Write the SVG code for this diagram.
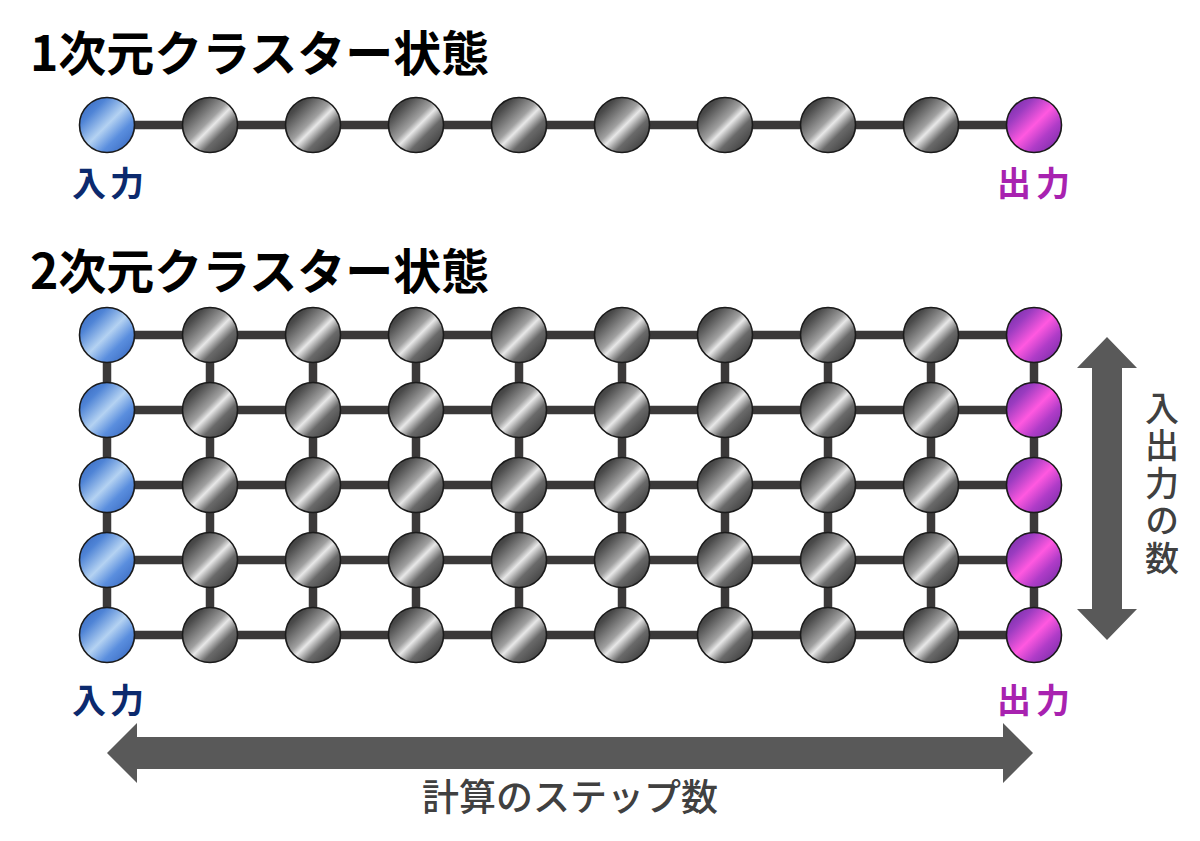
<svg xmlns="http://www.w3.org/2000/svg" width="1200" height="841" viewBox="0 0 1200 841">
<defs>
<linearGradient id="gGray" x1="0" y1="0" x2="1" y2="1">
<stop offset="0" stop-color="#2a2a2a"/>
<stop offset="0.2" stop-color="#4a4a4a"/>
<stop offset="0.45" stop-color="#a0a0a0"/>
<stop offset="0.53" stop-color="#e8e8e8"/>
<stop offset="0.68" stop-color="#6a6a6a"/>
<stop offset="1" stop-color="#2a2a2a"/>
</linearGradient>
<linearGradient id="gBlue" x1="0" y1="0" x2="1" y2="1">
<stop offset="0" stop-color="#2f5fb8"/>
<stop offset="0.25" stop-color="#4f84d6"/>
<stop offset="0.5" stop-color="#b4d2f2"/>
<stop offset="0.7" stop-color="#5a8ede"/>
<stop offset="1" stop-color="#2f5fb8"/>
</linearGradient>
<linearGradient id="gPurple" x1="0" y1="0" x2="1" y2="1">
<stop offset="0" stop-color="#6a2aa0"/>
<stop offset="0.25" stop-color="#9a3cc0"/>
<stop offset="0.5" stop-color="#ff58e0"/>
<stop offset="0.7" stop-color="#b03cc8"/>
<stop offset="1" stop-color="#6a2aa0"/>
</linearGradient>
</defs>
<style>
.edge{stroke:#3b3939;stroke-width:8.5;fill:none}
.n{stroke:#1a1a1a;stroke-width:1.6}
.gray{fill:url(#gGray)}
.blue{fill:url(#gBlue)}
.purple{fill:url(#gPurple)}
.title{font-family:"Noto Sans CJK JP","Liberation Sans",sans-serif;font-weight:bold;font-size:48px;fill:#000}
.lin{font-family:"Noto Sans CJK JP",sans-serif;font-weight:bold;font-size:34px;fill:#0c2a6e}
.lout{font-family:"Noto Sans CJK JP",sans-serif;font-weight:bold;font-size:34px;fill:#a822b0}
.axis{font-family:"Noto Sans CJK JP",sans-serif;font-weight:500;font-size:37px;fill:#404040}
.vaxis{font-family:"Noto Sans CJK JP",sans-serif;font-weight:500;font-size:34px;fill:#404040;writing-mode:vertical-rl;letter-spacing:3.5px}
.arrow{fill:#595959}
</style>
<rect width="1200" height="841" fill="#fff"/>
<text class="title" x="30" y="71">1次元クラスター状態</text>
<text class="title" x="30" y="289">2次元クラスター状態</text>
<g id="connectors">
<line class="edge" x1="107" y1="125" x2="1034" y2="125"/>
<line class="edge" x1="107" y1="335" x2="1034" y2="335"/>
<line class="edge" x1="107" y1="410" x2="1034" y2="410"/>
<line class="edge" x1="107" y1="485" x2="1034" y2="485"/>
<line class="edge" x1="107" y1="560" x2="1034" y2="560"/>
<line class="edge" x1="107" y1="635" x2="1034" y2="635"/>
<line class="edge" x1="107" y1="335" x2="107" y2="635"/>
<line class="edge" x1="210" y1="335" x2="210" y2="635"/>
<line class="edge" x1="313" y1="335" x2="313" y2="635"/>
<line class="edge" x1="416" y1="335" x2="416" y2="635"/>
<line class="edge" x1="519" y1="335" x2="519" y2="635"/>
<line class="edge" x1="622" y1="335" x2="622" y2="635"/>
<line class="edge" x1="725" y1="335" x2="725" y2="635"/>
<line class="edge" x1="828" y1="335" x2="828" y2="635"/>
<line class="edge" x1="931" y1="335" x2="931" y2="635"/>
<line class="edge" x1="1034" y1="335" x2="1034" y2="635"/>
</g>
<g id="chain1d">
<g id="a0"><circle class="n blue" cx="107" cy="125" r="27.5"/></g>
<g id="a1"><circle class="n gray" cx="210" cy="125" r="27.5"/></g>
<g id="a2"><circle class="n gray" cx="313" cy="125" r="27.5"/></g>
<g id="a3"><circle class="n gray" cx="416" cy="125" r="27.5"/></g>
<g id="a4"><circle class="n gray" cx="519" cy="125" r="27.5"/></g>
<g id="a5"><circle class="n gray" cx="622" cy="125" r="27.5"/></g>
<g id="a6"><circle class="n gray" cx="725" cy="125" r="27.5"/></g>
<g id="a7"><circle class="n gray" cx="828" cy="125" r="27.5"/></g>
<g id="a8"><circle class="n gray" cx="931" cy="125" r="27.5"/></g>
<g id="a9"><circle class="n purple" cx="1034" cy="125" r="27.5"/></g>
</g>
<g id="grid2d">
<g id="r0">
<g id="b00"><circle class="n blue" cx="107" cy="335" r="27.5"/></g>
<g id="b01"><circle class="n gray" cx="210" cy="335" r="27.5"/></g>
<g id="b02"><circle class="n gray" cx="313" cy="335" r="27.5"/></g>
<g id="b03"><circle class="n gray" cx="416" cy="335" r="27.5"/></g>
<g id="b04"><circle class="n gray" cx="519" cy="335" r="27.5"/></g>
<g id="b05"><circle class="n gray" cx="622" cy="335" r="27.5"/></g>
<g id="b06"><circle class="n gray" cx="725" cy="335" r="27.5"/></g>
<g id="b07"><circle class="n gray" cx="828" cy="335" r="27.5"/></g>
<g id="b08"><circle class="n gray" cx="931" cy="335" r="27.5"/></g>
<g id="b09"><circle class="n purple" cx="1034" cy="335" r="27.5"/></g>
</g>
<g id="r1">
<g id="b10"><circle class="n blue" cx="107" cy="410" r="27.5"/></g>
<g id="b11"><circle class="n gray" cx="210" cy="410" r="27.5"/></g>
<g id="b12"><circle class="n gray" cx="313" cy="410" r="27.5"/></g>
<g id="b13"><circle class="n gray" cx="416" cy="410" r="27.5"/></g>
<g id="b14"><circle class="n gray" cx="519" cy="410" r="27.5"/></g>
<g id="b15"><circle class="n gray" cx="622" cy="410" r="27.5"/></g>
<g id="b16"><circle class="n gray" cx="725" cy="410" r="27.5"/></g>
<g id="b17"><circle class="n gray" cx="828" cy="410" r="27.5"/></g>
<g id="b18"><circle class="n gray" cx="931" cy="410" r="27.5"/></g>
<g id="b19"><circle class="n purple" cx="1034" cy="410" r="27.5"/></g>
</g>
<g id="r2">
<g id="b20"><circle class="n blue" cx="107" cy="485" r="27.5"/></g>
<g id="b21"><circle class="n gray" cx="210" cy="485" r="27.5"/></g>
<g id="b22"><circle class="n gray" cx="313" cy="485" r="27.5"/></g>
<g id="b23"><circle class="n gray" cx="416" cy="485" r="27.5"/></g>
<g id="b24"><circle class="n gray" cx="519" cy="485" r="27.5"/></g>
<g id="b25"><circle class="n gray" cx="622" cy="485" r="27.5"/></g>
<g id="b26"><circle class="n gray" cx="725" cy="485" r="27.5"/></g>
<g id="b27"><circle class="n gray" cx="828" cy="485" r="27.5"/></g>
<g id="b28"><circle class="n gray" cx="931" cy="485" r="27.5"/></g>
<g id="b29"><circle class="n purple" cx="1034" cy="485" r="27.5"/></g>
</g>
<g id="r3">
<g id="b30"><circle class="n blue" cx="107" cy="560" r="27.5"/></g>
<g id="b31"><circle class="n gray" cx="210" cy="560" r="27.5"/></g>
<g id="b32"><circle class="n gray" cx="313" cy="560" r="27.5"/></g>
<g id="b33"><circle class="n gray" cx="416" cy="560" r="27.5"/></g>
<g id="b34"><circle class="n gray" cx="519" cy="560" r="27.5"/></g>
<g id="b35"><circle class="n gray" cx="622" cy="560" r="27.5"/></g>
<g id="b36"><circle class="n gray" cx="725" cy="560" r="27.5"/></g>
<g id="b37"><circle class="n gray" cx="828" cy="560" r="27.5"/></g>
<g id="b38"><circle class="n gray" cx="931" cy="560" r="27.5"/></g>
<g id="b39"><circle class="n purple" cx="1034" cy="560" r="27.5"/></g>
</g>
<g id="r4">
<g id="b40"><circle class="n blue" cx="107" cy="635" r="27.5"/></g>
<g id="b41"><circle class="n gray" cx="210" cy="635" r="27.5"/></g>
<g id="b42"><circle class="n gray" cx="313" cy="635" r="27.5"/></g>
<g id="b43"><circle class="n gray" cx="416" cy="635" r="27.5"/></g>
<g id="b44"><circle class="n gray" cx="519" cy="635" r="27.5"/></g>
<g id="b45"><circle class="n gray" cx="622" cy="635" r="27.5"/></g>
<g id="b46"><circle class="n gray" cx="725" cy="635" r="27.5"/></g>
<g id="b47"><circle class="n gray" cx="828" cy="635" r="27.5"/></g>
<g id="b48"><circle class="n gray" cx="931" cy="635" r="27.5"/></g>
<g id="b49"><circle class="n purple" cx="1034" cy="635" r="27.5"/></g>
</g>
</g>
<g id="labels">
<text class="lin" x="72 110" y="196">入力</text>
<text class="lout" x="997 1036" y="196">出力</text>
<text class="lin" x="72 110" y="713">入力</text>
<text class="lout" x="997 1036" y="713">出力</text>
</g>
<g id="arrow-vertical">
<polygon class="arrow" points="1107,337 1137,368 1122,368 1122,609 1137,609 1107,640 1077,609 1092,609 1092,368 1077,368"/>
<text class="vaxis" x="1162" y="391">入出力の数</text>
</g>
<g id="arrow-horizontal">
<polygon class="arrow" points="107,753 137,723 137,737 1003,737 1003,723 1033,753 1003,783 1003,769 137,769 137,783"/>
<text class="axis" x="570" y="811" text-anchor="middle">計算のステップ数</text>
</g>
</svg>
